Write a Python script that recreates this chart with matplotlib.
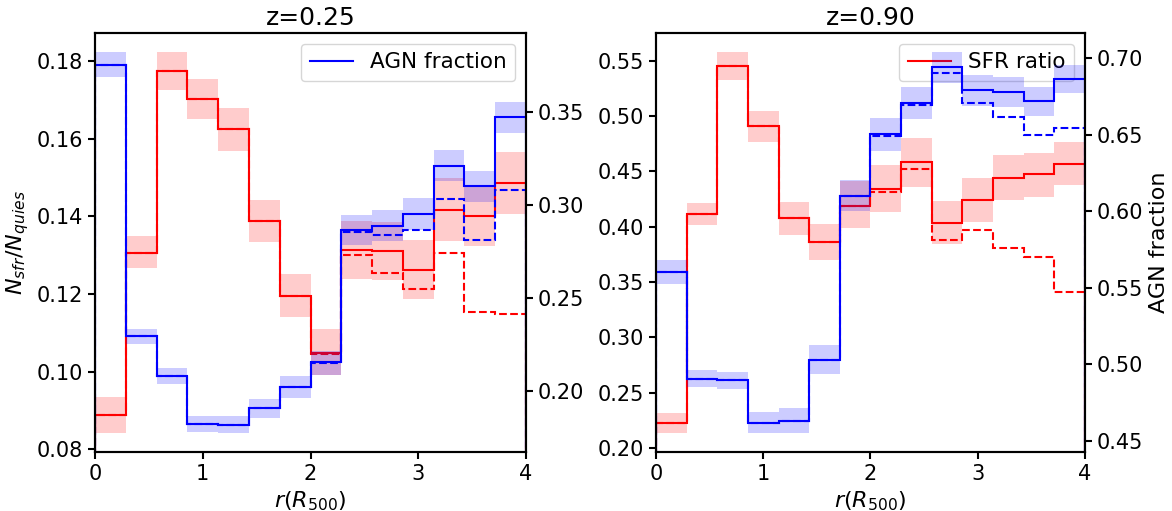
import numpy as np
from matplotlib import pyplot as plt

# radial bins, r in units of R500
r_edges = np.linspace(0, 4, 15)

# z = 0.25
sfr_025 = [0.0888, 0.1307, 0.1776, 0.1703, 0.1625, 0.1388, 0.1196, 0.1049, 0.1313, 0.1310, 0.1261, 0.1416, 0.1402, 0.1485]
sfr_025_lo = [0.0843, 0.1268, 0.1727, 0.1650, 0.1570, 0.1333, 0.1140, 0.0991, 0.1240, 0.1235, 0.1187, 0.1338, 0.1325, 0.1407]
sfr_025_hi = [0.0934, 0.1349, 0.1824, 0.1755, 0.1680, 0.1443, 0.1253, 0.1110, 0.1389, 0.1385, 0.1340, 0.1499, 0.1482, 0.1566]
sfr_025_dash = [0.0888, 0.1307, 0.1776, 0.1703, 0.1625, 0.1388, 0.1196, 0.1045, 0.1300, 0.1255, 0.1212, 0.1306, 0.1155, 0.1148]
agn_025 = [0.3757, 0.2293, 0.2081, 0.1822, 0.1818, 0.1905, 0.2018, 0.2153, 0.2864, 0.2887, 0.2952, 0.3213, 0.3101, 0.3473]
agn_025_lo = [0.3689, 0.2251, 0.2039, 0.1779, 0.1773, 0.1852, 0.1960, 0.2084, 0.2783, 0.2805, 0.2868, 0.3128, 0.3018, 0.3389]
agn_025_hi = [0.3825, 0.2334, 0.2120, 0.1863, 0.1863, 0.1957, 0.2077, 0.2215, 0.2947, 0.2972, 0.3038, 0.3297, 0.3184, 0.3556]
agn_025_dash = [0.3757, 0.2293, 0.2081, 0.1822, 0.1818, 0.1905, 0.2018, 0.2150, 0.2855, 0.2841, 0.2868, 0.3035, 0.2814, 0.3081]

# z = 0.90
sfr_090 = [0.2223, 0.4113, 0.5449, 0.4906, 0.4074, 0.3860, 0.4189, 0.4339, 0.4580, 0.4032, 0.4237, 0.4439, 0.4472, 0.4565]
sfr_090_lo = [0.2133, 0.4011, 0.5322, 0.4767, 0.3929, 0.3697, 0.3989, 0.4131, 0.4360, 0.3839, 0.4038, 0.4237, 0.4270, 0.4373]
sfr_090_hi = [0.2314, 0.4216, 0.5578, 0.5048, 0.4222, 0.4026, 0.4409, 0.4556, 0.4800, 0.4228, 0.4439, 0.4644, 0.4668, 0.4761]
sfr_090_dash = [0.2223, 0.4113, 0.5449, 0.4906, 0.4074, 0.3860, 0.4189, 0.4309, 0.4517, 0.3881, 0.3969, 0.3803, 0.3725, 0.3405]
agn_090 = [0.5604, 0.4906, 0.4895, 0.4618, 0.4631, 0.5030, 0.6099, 0.6503, 0.6708, 0.6941, 0.6795, 0.6777, 0.6721, 0.6865]
agn_090_lo = [0.5527, 0.4849, 0.4836, 0.4552, 0.4552, 0.4936, 0.5999, 0.6396, 0.6603, 0.6839, 0.6690, 0.6679, 0.6625, 0.6771]
agn_090_hi = [0.5682, 0.4962, 0.4952, 0.4685, 0.4714, 0.5124, 0.6202, 0.6610, 0.6812, 0.7041, 0.6893, 0.6876, 0.6812, 0.6954]
agn_090_dash = [0.5604, 0.4906, 0.4895, 0.4618, 0.4631, 0.5030, 0.6099, 0.6492, 0.6697, 0.6904, 0.6710, 0.6616, 0.6500, 0.6544]

plt.rcParams['font.size'] = 15
plt.rcParams['axes.labelsize'] = 16
plt.rcParams['axes.linewidth'] = 1.5
plt.rcParams['xtick.major.width'] = 1.5
plt.rcParams['ytick.major.width'] = 1.5
plt.rcParams['xtick.major.size'] = 5
plt.rcParams['ytick.major.size'] = 5

fig = plt.figure(figsize=(11.72, 5.11), dpi=100)


def band(ax, lo, hi, color):
    ax.fill_between(r_edges, list(lo) + [lo[-1]], list(hi) + [hi[-1]],
                    step='post', color=color, alpha=0.2, lw=0)


def panel(rect, title, sfr, sfr_lo, sfr_hi, sfr_d, agn, agn_lo, agn_hi, agn_d,
          ylim1, yt1, ylim2, yt2):
    ax = fig.add_axes(rect)
    band(ax, sfr_lo, sfr_hi, 'red')
    ax.stairs(sfr, r_edges, color='red', lw=1.5, label='SFR ratio')
    ax.stairs(sfr_d, r_edges, color='red', lw=1.5, ls='--')
    ax.set_xlim(0, 4)
    ax.set_ylim(*ylim1)
    ax.set_yticks(yt1)
    ax.set_xticks([0, 1, 2, 3, 4])
    ax.set_xlabel(r'$r(R_{500})$')
    ax.set_title(title, fontsize=18)

    ax2 = ax.twinx()
    band(ax2, agn_lo, agn_hi, 'blue')
    ax2.stairs(agn, r_edges, color='blue', lw=1.5, label='AGN fraction')
    ax2.stairs(agn_d, r_edges, color='blue', lw=1.5, ls='--')
    ax2.set_ylim(*ylim2)
    ax2.set_yticks(yt2)
    return ax, ax2


ax, ax2 = panel([0.0811, 0.1155, 0.3677, 0.820], 'z=0.25',
                sfr_025, sfr_025_lo, sfr_025_hi, sfr_025_dash,
                agn_025, agn_025_lo, agn_025_hi, agn_025_dash,
                (0.0793, 0.1873), [0.08, 0.10, 0.12, 0.14, 0.16, 0.18],
                (0.167, 0.3928), [0.20, 0.25, 0.30, 0.35])
ax.set_ylabel(r'$N_{sfr}/N_{quies}$')
ax2.legend(loc='upper right', fontsize=15.5)

bx, bx2 = panel([0.5597, 0.1155, 0.366, 0.820], 'z=0.90',
                sfr_090, sfr_090_lo, sfr_090_hi, sfr_090_dash,
                agn_090, agn_090_lo, agn_090_hi, agn_090_dash,
                (0.1964, 0.575), [0.20, 0.25, 0.30, 0.35, 0.40, 0.45, 0.50, 0.55],
                (0.4426, 0.7166), [0.45, 0.50, 0.55, 0.60, 0.65, 0.70])
bx2.set_ylabel('AGN fraction')
bx.legend(loc='upper right', fontsize=15.5)

fig.savefig('out.png', dpi=100)
